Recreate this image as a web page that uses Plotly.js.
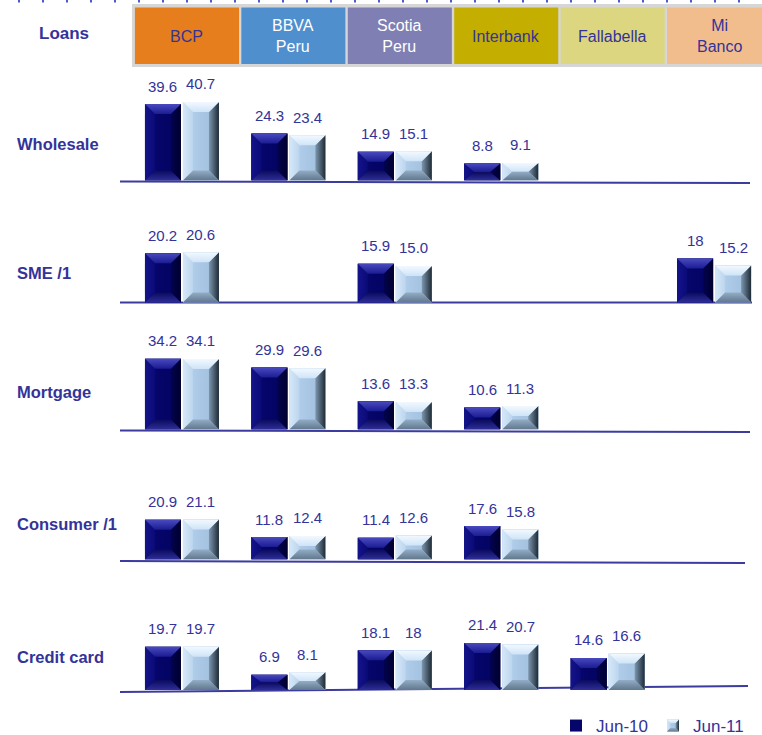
<!DOCTYPE html>
<html>
<head>
<meta charset="utf-8">
<script src="https://cdn.plot.ly/plotly-3.0.1.min.js"></script>
<style>
  html, body { margin: 0; padding: 0; background: #ffffff; overflow: hidden; }
  #chart { width: 762px; height: 735px; }
</style>
</head>
<body>
<div id="chart"></div>
<script>
// Banks (columns) and loan segments (rows)
const banks = ["BCP", "BBVA Peru", "Scotia Peru", "Interbank", "Fallabella", "Mi Banco"];
const bankLabels = ["BCP", "BBVA<br>Peru", "Scotia<br>Peru", "Interbank", "Fallabella", "Mi<br>Banco"];
const segments = ["Wholesale", "SME /1", "Mortgage", "Consumer /1", "Credit card"];
const seriesNames = ["Jun-10", "Jun-11"];

// Market share (%) per segment, written as printed; null = not shown
const wholesaleJun10 = ["39.6", "24.3", "14.9", "8.8", null, null];
const wholesaleJun11 = ["40.7", "23.4", "15.1", "9.1", null, null];
const smeJun10 = ["20.2", null, "15.9", null, null, "18"];
const smeJun11 = ["20.6", null, "15.0", null, null, "15.2"];
const mortgageJun10 = ["34.2", "29.9", "13.6", "10.6", null, null];
const mortgageJun11 = ["34.1", "29.6", "13.3", "11.3", null, null];
const consumerJun10 = ["20.9", "11.8", "11.4", "17.6", null, null];
const consumerJun11 = ["21.1", "12.4", "12.6", "15.8", null, null];
const creditJun10 = ["19.7", "6.9", "18.1", "21.4", "14.6", null];
const creditJun11 = ["19.7", "8.1", "18", "20.7", "16.6", null];

const rowSeries = [
  [wholesaleJun10, wholesaleJun11],
  [smeJun10, smeJun11],
  [mortgageJun10, mortgageJun11],
  [consumerJun10, consumerJun11],
  [creditJun10, creditJun11]
];

// ---- styling ----
const W = 762, H = 735;
const FONT = "Liberation Sans, Arial, Helvetica, sans-serif";
const INK = "#333399";
const DARK = "#05056a";
const LIGHT = "#aac9e8";
const headerFill = ["#e67e1d", "#4f8fce", "#7f7fb3", "#c4af00", "#dcd680", "#f2bd8d"];
const headerInk = [INK, "#ffffff", "#ffffff", INK, INK, INK];

const px = v => 1 - v / H;            // pixel row -> paper y
// per-row vertical geometry in pixels: baseline, top of plotting band, px per unit,
// floor line ends (left/right y, right x) and the row label position
const rows = [
  { base: 180.5, top: 80.5, scale: 1.93, lineL: 181.5, lineR: 183, lineEnd: 750, label: 144 },
  { base: 302.5, top: 222.5, scale: 2.44, lineL: 302.5, lineR: 302.5, lineEnd: 752, label: 273 },
  { base: 429.5, top: 329.5, scale: 2.07, lineL: 430.5, lineR: 432, lineEnd: 750, label: 392 },
  { base: 559.5, top: 479.5, scale: 1.90, lineL: 561, lineR: 563, lineEnd: 745, label: 524 },
  { base: 690, top: 610, scale: 2.20, lineL: 692, lineR: 686, lineEnd: 748, label: 657 }
];
const xRange = [-0.46, 5.45];
const xDomain = [133 / W, 1];
const lineStart = 120;

const idx = banks.map((_, i) => i);
const num = a => a.map(v => (v === null ? null : Number(v)));

const data = [];
const layout = {
  width: W, height: H,
  margin: { l: 0, r: 0, t: 0, b: 0, pad: 0, autoexpand: false },
  paper_bgcolor: "#ffffff",
  plot_bgcolor: "rgba(0,0,0,0)",
  font: { family: FONT, color: INK },
  barmode: "group",
  bargap: 0.286,
  bargroupgap: 0.053,
  showlegend: true,
  legend: {
    orientation: "h",
    x: 749 / W, xanchor: "right",
    y: -9 / H, yanchor: "bottom",
    font: { family: FONT, size: 17, color: INK },
    bgcolor: "rgba(0,0,0,0)",
    itemwidth: 30,
    tracegroupgap: 0
  },
  shapes: [],
  annotations: []
};

rows.forEach((r, k) => {
  const n = k === 0 ? "" : String(k + 1);
  const xa = "x" + n, ya = "y" + n;
  layout["xaxis" + n] = {
    domain: xDomain, range: xRange, type: "linear", anchor: ya,
    showgrid: false, zeroline: false, showticklabels: false, showline: false, ticks: ""
  };
  layout["yaxis" + n] = {
    domain: [px(r.base), px(r.top)],
    range: [0, (r.base - r.top) / r.scale],
    anchor: xa, showgrid: false, zeroline: false, showticklabels: false, showline: false, ticks: ""
  };

  rowSeries[k].forEach((vals, s) => {
    data.push({
      type: "bar",
      name: seriesNames[s],
      legendgroup: seriesNames[s],
      showlegend: k === 0,
      x: idx, y: num(vals),
      xaxis: xa, yaxis: ya,
      marker: { color: s === 0 ? DARK : LIGHT, line: { width: 0 } },
      hoverinfo: "skip"
    });
    // value labels above bars
    vals.forEach((v, i) => {
      if (v === null) return;
      layout.annotations.push({
        xref: xa, yref: ya, x: i, y: Number(v),
        xshift: s === 0 ? -19 : 19, yshift: 18,
        text: v, showarrow: false, xanchor: "center", yanchor: "middle",
        font: { family: FONT, size: 15, color: INK }
      });
    });
  });

  // floor line under each row
  layout.shapes.push({
    type: "line", xref: "paper", yref: "paper",
    x0: lineStart / W, x1: r.lineEnd / W, y0: px(r.lineL), y1: px(r.lineR),
    line: { color: "#3b3ba0", width: 2 }, layer: "below"
  });

  // segment label
  layout.annotations.push({
    xref: "paper", yref: "paper", x: 15 / W, y: px(r.label),
    xanchor: "left", yanchor: "middle", showarrow: false,
    text: "<b>" + segments[k] + "</b>",
    font: { family: FONT, size: 16.5, color: INK }
  });
});

// header strip with bank boxes
layout.shapes.push({
  type: "rect", xref: "paper", yref: "paper",
  x0: 132 / W, x1: 1, y0: px(67), y1: px(4),
  fillcolor: "#d6d6d6", line: { width: 0 }, layer: "below"
});
banks.forEach((b, i) => {
  layout.shapes.push({
    type: "rect", xref: "x", yref: "paper",
    x0: i - 0.442, x1: i + 0.536, y0: px(64), y1: px(7.5),
    fillcolor: headerFill[i], line: { width: 0 }, layer: "below"
  });
  layout.annotations.push({
    xref: "x", yref: "paper", x: i + 0.047, y: px(36),
    xanchor: "center", yanchor: "middle", showarrow: false,
    text: bankLabels[i], align: "center",
    font: { family: FONT, size: 16, color: headerInk[i] }
  });
});
layout.annotations.push({
  xref: "paper", yref: "paper", x: 64 / W, y: px(34),
  xanchor: "center", yanchor: "middle", showarrow: false,
  text: "<b>Loans</b>", font: { family: FONT, size: 17, color: INK }
});

// dotted rule along the top edge
layout.shapes.push({
  type: "line", xref: "paper", yref: "paper",
  x0: 18 / W, x1: 1, y0: px(1.2), y1: px(1.2),
  line: { color: "#4d5cc4", width: 2.5, dash: "2px,22px" }
});

// ---- bevelled bar faces ----
function addDefs(svg) {
  const NS = "http://www.w3.org/2000/svg";
  const defs = document.createElementNS(NS, "defs");
  const grads = {
    dTop: ["0,0,0,1", [["0", "#4a4abf"], ["1", "#1b1b92"]]],
    dBot: ["0,0,0,1", [["0", "#0a0a5e"], ["1", "#2e2e98"]]],
    dLeft: ["0,0,1,0", [["0", "#14148a"], ["1", "#0a0a78"]]],
    dRight: ["0,0,1,0", [["0", "#03034f"], ["1", "#00002e"]]],
    dFace: ["0,0,1,0", [["0", "#06066f"], ["1", "#030360"]]],
    lTop: ["0,0,0,1", [["0", "#f2f9ff"], ["1", "#cfe4f7"]]],
    lBot: ["0,0,0,1", [["0", "#93adc6"], ["1", "#60778c"]]],
    lLeft: ["0,0,1,0", [["0", "#d6e8f8"], ["1", "#bcd5ee"]]],
    lRight: ["0,0,1,0", [["0", "#7d97ae"], ["1", "#1e2a36"]]],
    lFace: ["0,0,1,0", [["0", "#b6d2ee"], ["1", "#9dbddc"]]]
  };
  Object.keys(grads).forEach(id => {
    const [v, stops] = grads[id];
    const [x1, y1, x2, y2] = v.split(",");
    const g = document.createElementNS(NS, "linearGradient");
    g.setAttribute("id", "bev-" + id);
    g.setAttribute("x1", x1); g.setAttribute("y1", y1);
    g.setAttribute("x2", x2); g.setAttribute("y2", y2);
    stops.forEach(([o, c]) => {
      const st = document.createElementNS(NS, "stop");
      st.setAttribute("offset", o); st.setAttribute("stop-color", c);
      g.appendChild(st);
    });
    defs.appendChild(g);
  });
  svg.insertBefore(defs, svg.firstChild);
}

function bevel(path, dark, maxInset) {
  const NS = "http://www.w3.org/2000/svg";
  const b = path.getBBox();
  if (!b.width || !b.height) return;
  const x = b.x, y = b.y, w = b.width, h = b.height;
  const dx = Math.min(maxInset, w * 0.28);
  const dy = Math.min(maxInset, h / 2);
  const p = dark ? "d" : "l";
  const parts = [
    ["Face", [[x, y], [x + w, y], [x + w, y + h], [x, y + h]]],
    ["Left", [[x, y], [x + dx, y + dy], [x + dx, y + h - dy], [x, y + h]]],
    ["Right", [[x + w, y], [x + w - dx, y + dy], [x + w - dx, y + h - dy], [x + w, y + h]]],
    ["Top", [[x, y], [x + w, y], [x + w - dx, y + dy], [x + dx, y + dy]]],
    ["Bot", [[x, y + h], [x + w, y + h], [x + w - dx, y + h - dy], [x + dx, y + h - dy]]]
  ];
  const g = document.createElementNS(NS, "g");
  g.setAttribute("transform", path.getAttribute("transform") || "");
  parts.forEach(([name, pts]) => {
    const poly = document.createElementNS(NS, "polygon");
    poly.setAttribute("points", pts.map(q => q.join(",")).join(" "));
    poly.setAttribute("fill", "url(#bev-" + p + name + ")");
    g.appendChild(poly);
  });
  path.parentNode.insertBefore(g, path.nextSibling);
}

const gd = document.getElementById("chart");
Plotly.newPlot(gd, data, layout, { staticPlot: true, displayModeBar: false }).then(() => {
  const svg = gd.querySelector(".main-svg");
  addDefs(svg);
  gd.querySelectorAll(".barlayer .trace").forEach(tg => {
    const cd = tg.__data__;
    const tr = cd && cd[0] && cd[0].trace;
    const dark = tr ? tr.name === seriesNames[0] : true;
    tg.querySelectorAll(".point path").forEach(pth => bevel(pth, dark, 10));
  });
  gd.querySelectorAll(".legend .traces").forEach(item => {
    const d = item.__data__;
    const tr = d && d[0] && d[0].trace;
    const pth = item.querySelector(".legendpoints path");
    if (pth && tr && tr.name === seriesNames[1]) bevel(pth, false, 3.5);
  });
});
</script>
</body>
</html>
